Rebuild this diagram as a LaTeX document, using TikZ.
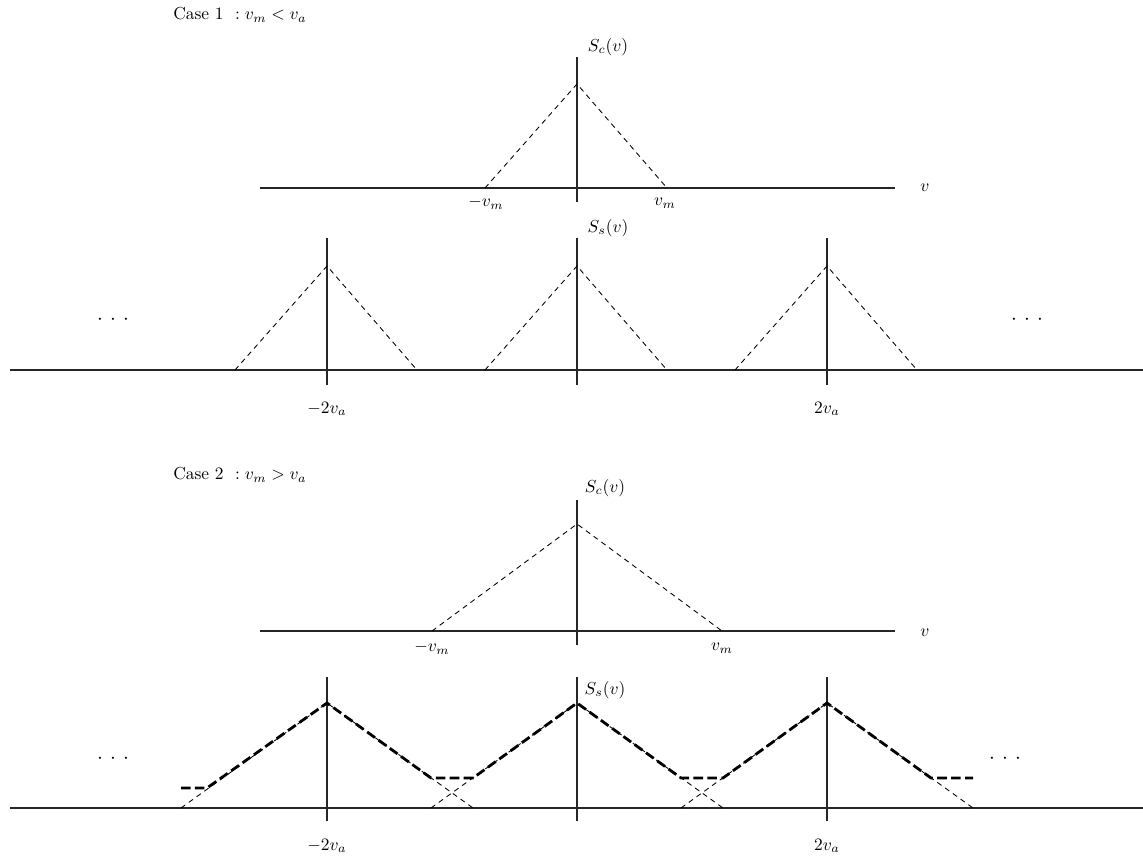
\documentclass[tikz,border=0pt]{standalone}
\begin{document}
\begin{tikzpicture}[x=0.575pt,y=-0.575pt,
  axis/.style={line width=0.8pt,draw=black!85},
  thin dash/.style={line width=0.5pt,dash pattern=on 3pt off 2.5pt},
  heavy dash/.style={line width=1.6pt,dash pattern=on 5.5pt off 2.5pt},
  lbl/.style={inner sep=0pt,font=\normalsize}]
\newcommand{\mydots}{{\large$\cdot$\hspace{4.2pt}$\cdot$\hspace{4.2pt}$\cdot$}}
\useasboundingbox (0,0) rectangle (1143,857);
% ---------- Case 1 ----------
\node[lbl,anchor=west] (case1) at (173,15) {Case 1\ \ $: v_m < v_a$};
% S_c
\coordinate (a1l) at (260,188); \coordinate (a1r) at (895,188);
\coordinate (v1t) at (577,57);  \coordinate (v1b) at (577,202);
\draw[axis] (a1l) -- (a1r);
\draw[axis] (v1t) -- (v1b);
\coordinate (p1) at (577,84); \coordinate (b1l) at (485,188); \coordinate (b1r) at (667,188);
\draw[thin dash] (b1l) -- (p1) -- (b1r);
\node[lbl] (sc1) at (608,47) {$S_c(v)$};
\node[lbl] (v1) at (925,188) {$v$};
\node[lbl] (mvm1) at (486,203) {$-v_m$};
\node[lbl] (vm1) at (665,203) {$v_m$};
% S_s
\coordinate (a2l) at (10,370); \coordinate (a2r) at (1143,370);
\draw[axis] (a2l) -- (a2r);
\foreach \c/\n in {327/L,577/M,827/R}{
  \coordinate (t2\n) at (\c,238); \coordinate (bb2\n) at (\c,385);
  \draw[axis] (t2\n) -- (bb2\n);
  \coordinate (p2\n) at (\c,266);
  \coordinate (l2\n) at (\c-92,370); \coordinate (r2\n) at (\c+90,370);
  \draw[thin dash] (l2\n) -- (p2\n) -- (r2\n);
}
\node[lbl] (ss1) at (608,228) {$S_s(v)$};
\node[lbl] (m2va1) at (327,409) {$-2v_a$};
\node[lbl] (p2va1) at (827,409) {$2v_a$};
\node[lbl] (dl1) at (113,320) {\mydots};
\node[lbl] (dr1) at (1027,320) {\mydots};
% ---------- Case 2 ----------
\node[lbl,anchor=west] (case2) at (173,475) {Case 2\ \ $: v_m > v_a$};
\coordinate (a3l) at (260,631); \coordinate (a3r) at (895,631);
\coordinate (v3t) at (577,500);  \coordinate (v3b) at (577,645);
\draw[axis] (a3l) -- (a3r);
\draw[axis] (v3t) -- (v3b);
\coordinate (p3) at (577,524); \coordinate (b3l) at (432,631); \coordinate (b3r) at (722,631);
\draw[thin dash] (b3l) -- (p3) -- (b3r);
\node[lbl] (sc2) at (605,488) {$S_c(v)$};
\node[lbl] (v2) at (925,633) {$v$};
\node[lbl] (mvm2) at (432,648) {$-v_m$};
\node[lbl] (vm2) at (722,648) {$v_m$};
% S_s aliased
\coordinate (a4l) at (10,808); \coordinate (a4r) at (1143,808);
\draw[axis] (a4l) -- (a4r);
\foreach \c/\n in {327/L,577/M,827/R}{
  \coordinate (t4\n) at (\c,677); \coordinate (bb4\n) at (\c,821);
  \draw[axis] (t4\n) -- (bb4\n);
  \coordinate (p4\n) at (\c,703);
  \coordinate (l4\n) at (\c-146,808); \coordinate (r4\n) at (\c+146,808);
  \draw[thin dash] (l4\n) -- (p4\n) -- (r4\n);
}
\coordinate (h0) at (181,788); \coordinate (h1) at (207,788);
\coordinate (h2) at (431,778); \coordinate (h3) at (473,778);
\coordinate (h4) at (681,778); \coordinate (h5) at (723,778);
\coordinate (h6) at (931,778); \coordinate (h7) at (973,778);
\draw[heavy dash] (h0) -- (h1) -- (p4L) -- (h2) -- (h3) -- (p4M) -- (h4) -- (h5) -- (p4R) -- (h6) -- (h7);
\node[lbl] (ss2) at (605,690) {$S_s(v)$};
\node[lbl] (m2va2) at (327,846) {$-2v_a$};
\node[lbl] (p2va2) at (827,846) {$2v_a$};
\node[lbl] (dl2) at (113,759) {\mydots};
\node[lbl] (dr2) at (1005,759) {\mydots};
\end{tikzpicture}
\end{document}
